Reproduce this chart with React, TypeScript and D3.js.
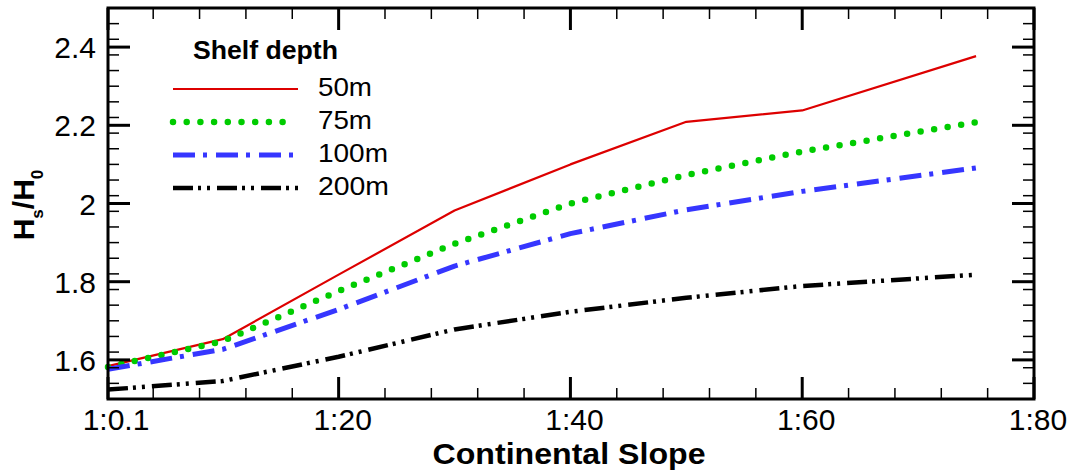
import React from "react";
import * as d3 from "d3";

// Continental slope (1:x), x values
const slopes = [0.1, 10, 20, 30, 40, 50, 60, 75];

// Hs/H0 for each shelf depth
const depth50 = [1.584, 1.653, 1.818, 1.982, 2.1, 2.209, 2.238, 2.377];
const depth75 = [1.582, 1.648, 1.776, 1.897, 2.0, 2.073, 2.133, 2.208];
const depth100 = [1.576, 1.627, 1.729, 1.84, 1.923, 1.984, 2.031, 2.091];
const depth200 = [1.524, 1.546, 1.608, 1.678, 1.723, 1.759, 1.789, 1.818];

const seriesNames = ["50m", "75m", "100m", "200m"];

const xTickValues = [0.1, 20, 40, 60, 80];
const xTickLabels = ["1:0.1", "1:20", "1:40", "1:60", "1:80"];
const yTickValues = [1.6, 1.8, 2.0, 2.2, 2.4];
const yTickLabels = ["1.6", "1.8", "2", "2.2", "2.4"];

const W = 1076;
const H = 472;
const left = 108;
const right = 1034;
const top = 8;
const bottom = 399;

const FONT = "'Liberation Sans', Arial, Helvetica, sans-serif";

const styles = [
  { color: "#dd0000", width: 2.2, dash: undefined as string | undefined, cap: "butt" },
  { color: "#00cc00", width: 6.5, dash: "0 13.7", cap: "round" },
  { color: "#3636ff", width: 5, dash: "22 8 4 9", cap: "butt" },
  { color: "#000000", width: 4.5, dash: "20 5 3 6 3 7", cap: "butt" },
];

// rendered widths of the legend labels
const legendLabelWidths = [54, 54, 70, 71];

export default function App() {
  const x = d3.scaleLinear().domain([0.1, 80]).range([left, right]);
  const y = d3.scaleLinear().domain([1.5, 2.5]).range([bottom, top]);

  const allSeries = [depth50, depth75, depth100, depth200];
  const line = d3
    .line<[number, number]>()
    .x((d) => x(d[0]))
    .y((d) => y(d[1]));

  // minor ticks every 4 units on x, every 0.04 on y
  const xMinor = d3.range(4, 80, 4).filter((v) => v % 20 !== 0);
  const yMinor = d3
    .range(1, 25)
    .map((i) => +(1.5 + i * 0.04).toFixed(2))
    .filter((v) => !yTickValues.some((t) => Math.abs(t - v) < 1e-6));

  const majorLen = 22;
  const minorLen = 11;

  const legendX0 = 173;
  const legendX1 = 298;
  const legendBaselines = [96, 129, 162, 195];

  return (
    <div style={{ position: "absolute", left: 0, top: 0 }}>
      <svg width={W} height={H} style={{ display: "block", background: "#fff" }}>
        {/* data lines */}
        {allSeries.map((vals, i) => {
          const pts = slopes.map((s, j) => [s, vals[j]] as [number, number]);
          const st = styles[i];
          return (
            <path
              key={i}
              d={line(pts) || ""}
              fill="none"
              stroke={st.color}
              strokeWidth={st.width}
              strokeDasharray={st.dash}
              strokeLinecap={st.cap as any}
              strokeLinejoin="round"
            />
          );
        })}

        {/* ticks on bottom and top */}
        {xMinor.map((v) => (
          <g key={"xm" + v} stroke="#000" strokeWidth={1.5}>
            <line x1={x(v)} x2={x(v)} y1={bottom} y2={bottom - minorLen} />
            <line x1={x(v)} x2={x(v)} y1={top} y2={top + minorLen} />
          </g>
        ))}
        {xTickValues.map((v) => (
          <g key={"xM" + v} stroke="#000" strokeWidth={3}>
            <line x1={x(v)} x2={x(v)} y1={bottom} y2={bottom - majorLen} />
            <line x1={x(v)} x2={x(v)} y1={top} y2={top + majorLen} />
          </g>
        ))}
        {/* ticks on left and right */}
        {yMinor.map((v) => (
          <g key={"ym" + v} stroke="#000" strokeWidth={1.5}>
            <line x1={left} x2={left + minorLen} y1={y(v)} y2={y(v)} />
            <line x1={right} x2={right - minorLen} y1={y(v)} y2={y(v)} />
          </g>
        ))}
        {yTickValues.map((v) => (
          <g key={"yM" + v} stroke="#000" strokeWidth={3}>
            <line x1={left} x2={left + majorLen} y1={y(v)} y2={y(v)} />
            <line x1={right} x2={right - majorLen} y1={y(v)} y2={y(v)} />
          </g>
        ))}

        {/* frame */}
        <rect
          x={left}
          y={top}
          width={right - left}
          height={bottom - top}
          fill="none"
          stroke="#000"
          strokeWidth={3}
        />

        {/* tick labels */}
        {xTickValues.map((v, i) => (
          <text
            key={"xl" + i}
            x={x(v) + (i === 0 ? 8 : 4)}
            y={430}
            textAnchor="middle"
            fontFamily={FONT}
            fontSize={30}
            fill="#000"
          >
            {xTickLabels[i]}
          </text>
        ))}
        {yTickValues.map((v, i) => (
          <text
            key={"yl" + i}
            x={96}
            y={y(v) + 11}
            textAnchor="end"
            fontFamily={FONT}
            fontSize={30}
            fill="#000"
          >
            {yTickLabels[i]}
          </text>
        ))}

        {/* axis titles */}
        <text
          x={569}
          y={464}
          textAnchor="middle"
          fontFamily={FONT}
          fontSize={30}
          fontWeight="bold"
          textLength={273}
          lengthAdjust="spacingAndGlyphs"
          fill="#000"
        >
          Continental Slope
        </text>
        <text
          transform="translate(34,205) rotate(-90)"
          textAnchor="middle"
          fontFamily={FONT}
          fontSize={30}
          fontWeight="bold"
          fill="#000"
        >
          H
          <tspan fontSize={17} dy={9}>
            s
          </tspan>
          <tspan dy={-9}>/H</tspan>
          <tspan fontSize={17} dy={9}>
            0
          </tspan>
        </text>

        {/* legend */}
        <text
          x={193}
          y={59}
          fontFamily={FONT}
          fontSize={25}
          fontWeight="bold"
          textLength={145}
          lengthAdjust="spacingAndGlyphs"
          fill="#000"
        >
          Shelf depth
        </text>
        {seriesNames.map((name, i) => {
          const st = styles[i];
          const by = legendBaselines[i];
          const ly = by - 7;
          return (
            <g key={"lg" + i}>
              <line
                x1={legendX0}
                x2={i === 1 ? 286 : legendX1}
                y1={ly}
                y2={ly}
                stroke={st.color}
                strokeWidth={st.width}
                strokeDasharray={st.dash}
                strokeLinecap={st.cap as any}
              />
              <text
                x={318}
                y={by}
                fontFamily={FONT}
                fontSize={25.5}
                textLength={legendLabelWidths[i]}
                lengthAdjust="spacingAndGlyphs"
                fill="#000"
              >
                {name}
              </text>
            </g>
          );
        })}
      </svg>
    </div>
  );
}
